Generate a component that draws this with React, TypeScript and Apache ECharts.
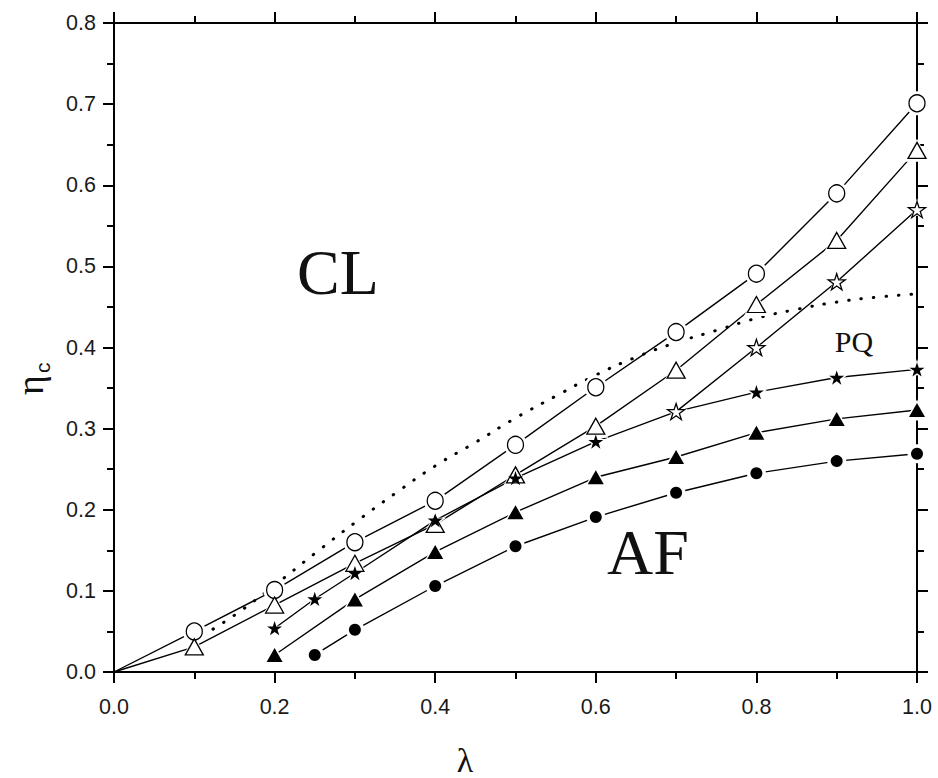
import React, { useEffect, useRef } from "react";
import * as echarts from "echarts";

// open circles
const openCircleX = [0, 0.1, 0.2, 0.3, 0.4, 0.5, 0.6, 0.7, 0.8, 0.9, 1.0];
const openCircleY = [0, 0.05, 0.101, 0.16, 0.211, 0.28, 0.351, 0.419, 0.491, 0.59, 0.701];
// open triangles
const openTriX = [0, 0.1, 0.2, 0.3, 0.4, 0.5, 0.6, 0.7, 0.8, 0.9, 1.0];
const openTriY = [0, 0.031, 0.0825, 0.134, 0.182, 0.243, 0.303, 0.372, 0.453, 0.532, 0.643];
// filled stars
const filledStarX = [0.2, 0.25, 0.3, 0.4, 0.5, 0.6, 0.7, 0.8, 0.9, 1.0];
const filledStarY = [0.054, 0.09, 0.122, 0.187, 0.239, 0.284, 0.321, 0.345, 0.363, 0.373];
// open stars
const openStarX = [0.7, 0.8, 0.9, 1.0];
const openStarY = [0.321, 0.4, 0.481, 0.57];
// filled triangles
const filledTriX = [0.2, 0.3, 0.4, 0.5, 0.6, 0.7, 0.8, 0.9, 1.0];
const filledTriY = [0.021, 0.0895, 0.148, 0.197, 0.24, 0.265, 0.295, 0.312, 0.323];
// filled circles
const filledCircleX = [0.25, 0.3, 0.4, 0.5, 0.6, 0.7, 0.8, 0.9, 1.0];
const filledCircleY = [0.021, 0.052, 0.106, 0.155, 0.191, 0.221, 0.245, 0.26, 0.269];
// dotted boundary
const dottedX = [0.11, 0.15, 0.2, 0.25, 0.3, 0.35, 0.4, 0.45, 0.5, 0.55, 0.6, 0.65, 0.7, 0.75, 0.8, 0.85, 0.9, 0.95, 1.0];
const dottedY = [0.045, 0.07, 0.107, 0.146, 0.184, 0.22, 0.254, 0.283, 0.313, 0.34, 0.366, 0.388, 0.406, 0.421, 0.436, 0.447, 0.456, 0.462, 0.466];

const xTicks = ["0.0", "0.2", "0.4", "0.6", "0.8", "1.0"];
const yTicks = ["0.0", "0.1", "0.2", "0.3", "0.4", "0.5", "0.6", "0.7", "0.8"];

const STAR =
  "path://M50,0 L61.2,34.5 L97.6,34.5 L68.2,55.9 L79.4,90.5 L50,69.1 L20.6,90.5 L31.8,55.9 L2.4,34.5 L38.8,34.5 Z";

const pairs = (xs: number[], ys: number[]) => xs.map((x, i) => [x, ys[i]]);

export default function App() {
  const ref = useRef<HTMLDivElement>(null);
  useEffect(() => {
    if (!ref.current) return;
    const chart = echarts.init(ref.current, null, { renderer: "svg" });

    const sets = [
      { x: openCircleX, y: openCircleY, symbol: "circle", size: [16, 17], fill: "#fff" },
      { x: openTriX, y: openTriY, symbol: "triangle", size: [18, 16], fill: "#fff" },
      { x: filledStarX, y: filledStarY, symbol: STAR, size: 15, fill: "#000" },
      { x: openStarX, y: openStarY, symbol: STAR, size: 17, fill: "#fff" },
      { x: filledTriX, y: filledTriY, symbol: "triangle", size: [16, 14], fill: "#000" },
      { x: filledCircleX, y: filledCircleY, symbol: "circle", size: 12, fill: "#000" },
    ];

    const series: any[] = [];
    sets.forEach((s) => {
      series.push({
        type: "line",
        data: pairs(s.x, s.y),
        symbol: "none",
        lineStyle: { color: "#000", width: 1.4 },
        z: 2,
        silent: true,
      });
    });
    series.push({
      type: "line",
      data: pairs(dottedX, dottedY),
      symbol: "none",
      smooth: true,
      lineStyle: { color: "#000", width: 3, type: [0.5, 12], cap: "round" },
      z: 2,
      silent: true,
    });
    sets.forEach((s) => {
      const data = pairs(s.x, s.y).filter((d) => d[0] > 0);
      const halo = Array.isArray(s.size) ? s.size.map((v) => v + 7) : s.size + 7;
      series.push({
        type: "scatter",
        data,
        symbol: s.symbol,
        symbolSize: halo,
        symbolKeepAspect: true,
        itemStyle: { color: "#fff", opacity: 1 },
        z: 3,
        silent: true,
      });
    });
    sets.forEach((s) => {
      const data = pairs(s.x, s.y).filter((d) => d[0] > 0);
      series.push({
        type: "scatter",
        data,
        symbol: s.symbol,
        symbolSize: s.size,
        symbolKeepAspect: true,
        itemStyle: {
          color: s.fill,
          opacity: 1,
          borderColor: "#000",
          borderWidth: s.fill === "#fff" ? 1.3 : 0,
        },
        z: 4,
        silent: true,
      });
    });

    const labelFont = { fontFamily: "Liberation Sans", fontSize: 21.5, color: "#1a1a1a" };
    const axisLine = { show: true, onZero: false, lineStyle: { color: "#000", width: 2 } };
    const tick = { show: true, inside: false, length: 11, lineStyle: { color: "#000", width: 2 } };
    const minor = { show: true, splitNumber: 2, length: 7, lineStyle: { color: "#000", width: 2 } };

    chart.setOption({
      animation: false,
      backgroundColor: "#fff",
      grid: { left: 114, top: 23, width: 803, height: 649, containLabel: false },
      xAxis: [
        {
          type: "value",
          position: "bottom",
          min: 0,
          max: 1,
          interval: 0.2,
          axisLine,
          axisTick: tick,
          minorTick: minor,
          splitLine: { show: false },
          axisLabel: {
            ...labelFont,
            margin: 24,
            formatter: (v: number) => xTicks[Math.round(v / 0.2)] ?? "",
          },
        },
        {
          type: "value",
          position: "top",
          min: 0,
          max: 1,
          interval: 0.2,
          axisLine,
          axisTick: tick,
          minorTick: minor,
          splitLine: { show: false },
          axisLabel: { show: false },
        },
      ],
      yAxis: [
        {
          type: "value",
          position: "left",
          min: 0,
          max: 0.8,
          interval: 0.1,
          axisLine,
          axisTick: tick,
          minorTick: minor,
          splitLine: { show: false },
          axisLabel: {
            ...labelFont,
            margin: 18,
            formatter: (v: number) => yTicks[Math.round(v / 0.1)] ?? "",
          },
        },
        {
          type: "value",
          position: "right",
          min: 0,
          max: 0.8,
          interval: 0.1,
          axisLine,
          axisTick: tick,
          minorTick: minor,
          splitLine: { show: false },
          axisLabel: { show: false },
        },
      ],
      series,
      graphic: [
        {
          type: "text",
          x: 338,
          y: 272,
          style: {
            text: "CL",
            font: "64px 'Liberation Serif'",
            fill: "#111",
            textAlign: "center",
            textVerticalAlign: "middle",
          },
        },
        {
          type: "text",
          x: 648,
          y: 552,
          style: {
            text: "AF",
            font: "64px 'Liberation Serif'",
            fill: "#111",
            textAlign: "center",
            textVerticalAlign: "middle",
          },
        },
        {
          type: "text",
          x: 854,
          y: 341,
          style: {
            text: "PQ",
            font: "30px 'Liberation Serif'",
            fill: "#111",
            textAlign: "center",
            textVerticalAlign: "middle",
          },
        },
        {
          type: "text",
          x: 465,
          y: 760,
          style: {
            text: "λ",
            font: "34px 'Liberation Serif'",
            fill: "#111",
            textAlign: "center",
            textVerticalAlign: "middle",
          },
        },
        {
          type: "group",
          x: 30,
          y: 385,
          rotation: Math.PI / 2,
          children: [
            {
              type: "text",
              x: 0,
              y: 0,
              style: {
                text: "η",
                font: "38px 'Liberation Serif'",
                fill: "#111",
                textAlign: "center",
                textVerticalAlign: "middle",
              },
            },
            {
              type: "text",
              x: 12,
              y: 12,
              style: {
                text: "c",
                font: "21px 'Liberation Sans'",
                fill: "#111",
                textAlign: "left",
                textVerticalAlign: "middle",
              },
            },
          ],
        },
      ],
    });
    return () => chart.dispose();
  }, []);
  return (
    <div
      ref={ref}
      style={{ position: "absolute", left: 0, top: 0, width: 938, height: 778 }}
    />
  );
}
